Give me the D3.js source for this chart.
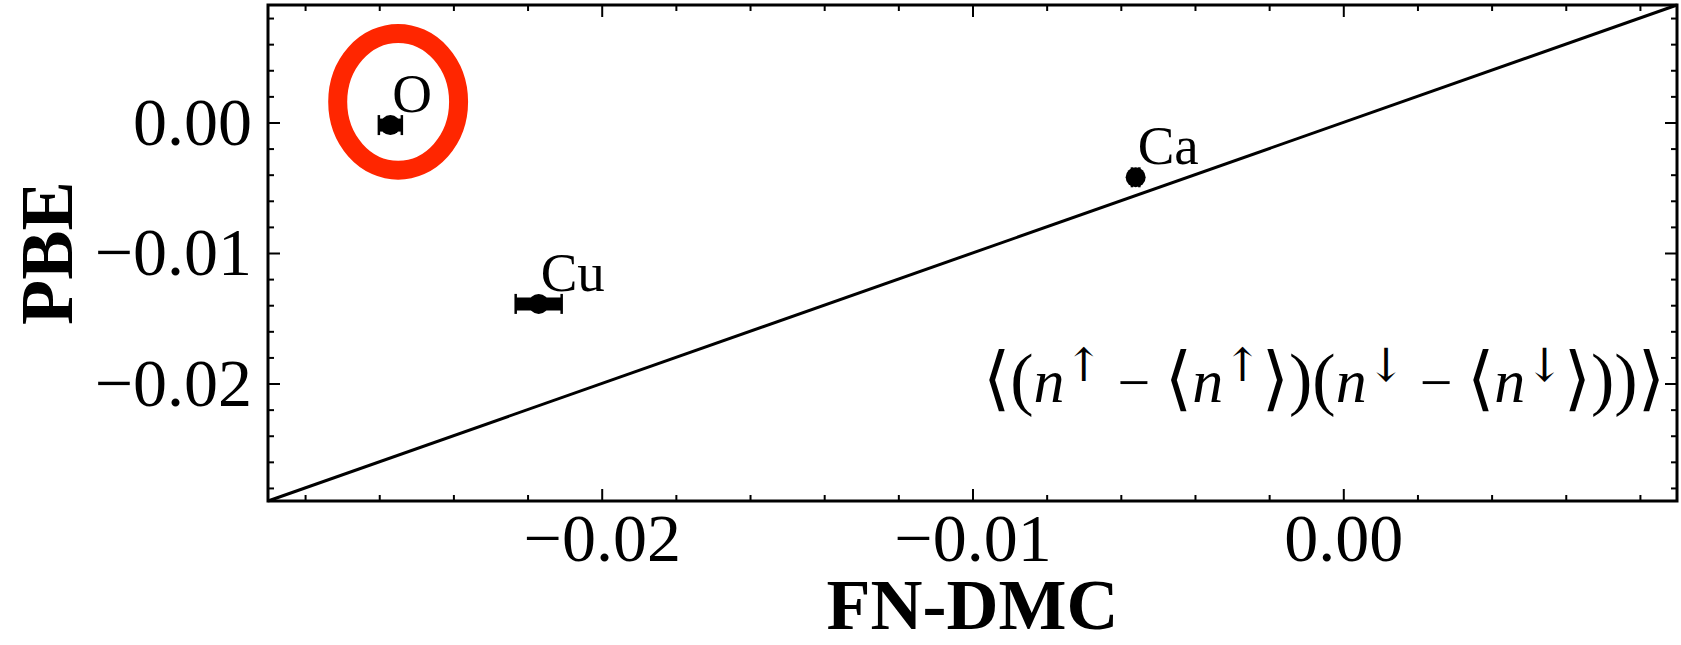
<!DOCTYPE html>
<html>
<head>
<meta charset="utf-8">
<script src="https://cdn.jsdelivr.net/npm/d3@7"></script>
<style>
  body { margin: 0; background: #fff; }
  svg { display: block; }
</style>
</head>
<body>
<svg id="grafico"></svg>
<script>
const largura = 1681;
const altura = 645;
const margem = { top: 5, right: 4, bottom: 144, left: 268 };

// Dados
const elementos = ["O", "Cu", "Ca"];
const fnDmc = [-0.0257, -0.0217, -0.0056];
const pbe = [-0.0002, -0.0139, -0.0042];
const erroFnDmc = [0.00031, 0.00062, 0.0001];

const dominio = [-0.029, 0.009];
const ticksMaiores = [-0.02, -0.01, 0.00];
const rotulosX = ["−0.02", "−0.01", "0.00"];
const rotulosY = ["−0.02", "−0.01", "0.00"];

// destaque em volta do ponto O (centro, raios em unidades dos dados)
const destaque = { cx: -0.02549, cy: 0.00158, rx: 0.00163, ry: 0.00524 };

const fonte = "'Liberation Serif', 'DejaVu Serif', serif";

const svg = d3.select("#grafico")
    .attr("width", largura)
    .attr("height", altura);

const x = d3.scaleLinear()
    .domain(dominio)
    .range([margem.left, largura - margem.right]);

const y = d3.scaleLinear()
    .domain(dominio)
    .range([altura - margem.bottom, margem.top]);

const ticksMenores = x.ticks(20).filter(t => !ticksMaiores.some(m => Math.abs(m - t) < 1e-9));

const base = altura - margem.bottom;
const esquerda = margem.left;
const direita = largura - margem.right;

// Eixos, ticks para dentro nos quatro lados
const semDominio = g => g.select(".domain").remove();

// inferior
svg.append("g").attr("transform", `translate(0,${base})`)
    .call(d3.axisBottom(x).tickValues(ticksMaiores).tickSize(-12).tickPadding(12)
        .tickFormat((d, i) => rotulosX[i]))
    .call(semDominio);
svg.append("g").attr("transform", `translate(0,${base})`)
    .call(d3.axisBottom(x).tickValues(ticksMenores).tickSize(-6).tickFormat(""))
    .call(semDominio);
// superior
svg.append("g").attr("transform", `translate(0,${margem.top})`)
    .call(d3.axisTop(x).tickValues(ticksMaiores).tickSize(-12).tickFormat(""))
    .call(semDominio);
svg.append("g").attr("transform", `translate(0,${margem.top})`)
    .call(d3.axisTop(x).tickValues(ticksMenores).tickSize(-6).tickFormat(""))
    .call(semDominio);
// esquerda
svg.append("g").attr("transform", `translate(${esquerda},0)`)
    .call(d3.axisLeft(y).tickValues(ticksMaiores).tickSize(-12).tickPadding(16)
        .tickFormat((d, i) => rotulosY[i]))
    .call(semDominio);
svg.append("g").attr("transform", `translate(${esquerda},0)`)
    .call(d3.axisLeft(y).tickValues(ticksMenores).tickSize(-6).tickFormat(""))
    .call(semDominio);
// direita
svg.append("g").attr("transform", `translate(${direita},0)`)
    .call(d3.axisRight(y).tickValues(ticksMaiores).tickSize(-12).tickFormat(""))
    .call(semDominio);
svg.append("g").attr("transform", `translate(${direita},0)`)
    .call(d3.axisRight(y).tickValues(ticksMenores).tickSize(-6).tickFormat(""))
    .call(semDominio);

svg.selectAll(".tick line").attr("stroke", "#000").attr("stroke-width", 2);
svg.selectAll(".tick text")
    .attr("font-family", fonte)
    .attr("font-size", 68)
    .attr("fill", "#000");

// Linha y = x
svg.append("line")
    .attr("x1", x(dominio[0])).attr("y1", y(dominio[0]))
    .attr("x2", x(dominio[1])).attr("y2", y(dominio[1]))
    .attr("stroke", "#000")
    .attr("stroke-width", 3);

// Barras de erro
const pontos = elementos.map((e, i) => ({ nome: e, x: fnDmc[i], y: pbe[i], ex: erroFnDmc[i] }));

svg.selectAll(".barra")
    .data(pontos)
    .join("line")
    .attr("class", "barra")
    .attr("x1", d => x(d.x - d.ex)).attr("x2", d => x(d.x + d.ex))
    .attr("y1", d => y(d.y)).attr("y2", d => y(d.y))
    .attr("stroke", "#000")
    .attr("stroke-width", 13);

svg.selectAll(".capa")
    .data(pontos.flatMap(d => [{ x: d.x - d.ex, y: d.y }, { x: d.x + d.ex, y: d.y }]))
    .join("line")
    .attr("class", "capa")
    .attr("x1", d => x(d.x)).attr("x2", d => x(d.x))
    .attr("y1", d => y(d.y) - 10).attr("y2", d => y(d.y) + 10)
    .attr("stroke", "#000")
    .attr("stroke-width", 2.5);

// Pontos
svg.selectAll(".ponto")
    .data(pontos)
    .join("circle")
    .attr("class", "ponto")
    .attr("cx", d => x(d.x))
    .attr("cy", d => y(d.y))
    .attr("r", 10)
    .attr("fill", "#000");

// Rótulos dos pontos
svg.selectAll(".rotulo")
    .data(pontos)
    .join("text")
    .attr("class", "rotulo")
    .attr("x", d => x(d.x) + 2)
    .attr("y", d => y(d.y) - 13)
    .attr("font-family", fonte)
    .attr("font-size", 55)
    .attr("fill", "#000")
    .text(d => d.nome);

// Destaque vermelho
svg.append("ellipse")
    .attr("cx", x(destaque.cx))
    .attr("cy", y(destaque.cy))
    .attr("rx", x(destaque.cx + destaque.rx) - x(destaque.cx))
    .attr("ry", y(destaque.cy) - y(destaque.cy + destaque.ry))
    .attr("fill", "none")
    .attr("stroke", "#ff2600")
    .attr("stroke-width", 19);

// Fórmula
const formula = svg.append("text")
    .attr("x", direita - 12)
    .attr("y", margem.top + 397)
    .attr("text-anchor", "end")
    .attr("font-family", fonte)
    .attr("font-size", 58)
    .attr("fill", "#000");

// [texto, tipo]: "d" delimitador alto, "n" variável itálica, "s" seta, "o" operador
const partes = [
    ["⟨(", "d"], ["n", "n"], ["↑", "s"], [" − ", "o"], ["⟨", "d"], ["n", "n"], ["↑", "s"],
    ["⟩)(", "d"], ["n", "n"], ["↓", "s"], [" − ", "o"], ["⟨", "d"], ["n", "n"], ["↓", "s"],
    ["⟩))⟩", "d"]
];
let levantado = false;
partes.forEach(([t, tipo]) => {
    const ts = formula.append("tspan").text(t);
    if (tipo === "s") {
        ts.attr("dy", -21).attr("font-size", 46).attr("font-family", "'DejaVu Serif', serif")
          .attr("font-weight", 300);
        levantado = true;
        return;
    }
    if (levantado) { ts.attr("dy", 21); levantado = false; }
    if (tipo === "n") ts.attr("font-style", "italic").attr("font-size", 62);
    if (tipo === "d") ts.attr("font-size", 70).attr("font-weight", 300);
});

// Moldura
svg.append("rect")
    .attr("x", esquerda)
    .attr("y", margem.top)
    .attr("width", direita - esquerda)
    .attr("height", base - margem.top)
    .attr("fill", "none")
    .attr("stroke", "#000")
    .attr("stroke-width", 3);

// Rótulos dos eixos
svg.append("text")
    .attr("x", (esquerda + direita) / 2)
    .attr("y", 629)
    .attr("text-anchor", "middle")
    .attr("font-family", fonte)
    .attr("font-weight", "bold")
    .attr("font-size", 72)
    .text("FN-DMC");

svg.append("text")
    .attr("transform", `translate(72,${(margem.top + base) / 2}) rotate(-90)`)
    .attr("text-anchor", "middle")
    .attr("font-family", fonte)
    .attr("font-weight", "bold")
    .attr("font-size", 74)
    .text("PBE");
</script>
</body>
</html>
